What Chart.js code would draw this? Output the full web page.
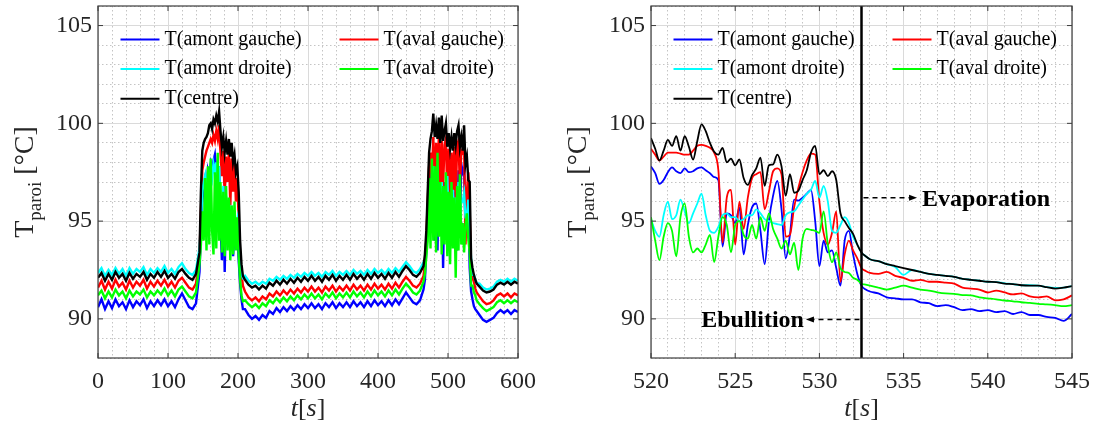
<!DOCTYPE html>
<html>
<head>
<meta charset="utf-8">
<script src="https://cdn.jsdelivr.net/npm/chart.js@4.4.1/dist/chart.umd.min.js"></script>
<style>
  html, body { margin: 0; padding: 0; background: #fff; }
  .panel { position: absolute; top: 0; height: 427px; }
  #left { left: 0; width: 548px; }
  #right { left: 548px; width: 547px; }
</style>
</head>
<body>
<div class="panel" id="left"><canvas id="chartLeft"></canvas></div>
<div class="panel" id="right"><canvas id="chartRight"></canvas></div>
<script>
// sampling grid helper (time stamps only)
function range(a, b, step) {
  const out = [];
  for (let i = 0; a + i * step <= b + 1e-9; i++) out.push(+(a + i * step).toFixed(2));
  return out;
}

const seriesNames = ["T(amont gauche)", "T(aval gauche)", "T(amont droite)", "T(aval droite)", "T(centre)"];
const seriesColors = ["#0000ff", "#ff0000", "#00ffff", "#00ff00", "#000000"];

const yTicks = [90, 95, 100, 105];
const leftXTicks = [0, 100, 200, 300, 400, 500, 600];
const rightXTicks = [520, 525, 530, 535, 540, 545];
const splitTime = 532.5;

// ---- left panel: whole run, 0-600 s ----
const leftTime = [
  ...range(0, 145, 5), ...range(147, 207, 2), ...range(210, 465, 5), ...range(467, 541, 2), ...range(545, 600, 5)
];

const leftBlue = [
  90.6, 91.0, 90.5, 90.9, 90.55, 91.0, 90.65, 90.85, 90.5, 90.95, 90.6, 90.9, 90.7, 91.0, 90.55,
  90.9, 90.65, 90.95, 90.7, 91.0, 90.65, 90.9, 90.6, 91.0, 91.3, 90.95, 90.6, 90.5, 90.8, 92.4,
  94.5, 96.0, 96.8, 97.2, 96.5, 97.6, 97.3, 97.9, 97.5, 98.1, 98.4, 97.6, 96.2, 97.8, 95.0, 93.0,
  96.5, 92.4, 96.0, 94.0, 95.8, 93.5, 95.5, 93.2, 94.6, 93.8, 94.5, 93.0, 91.8, 91.0, 90.5,
  90.5, 90.2, 90.0, 90.15, 89.95, 90.2, 90.05, 90.4, 90.25, 90.55, 90.35, 90.6, 90.4, 90.65, 90.45,
  90.7, 90.5, 90.75, 90.55, 90.8, 90.55, 90.75, 90.5, 90.8, 90.6, 90.85, 90.55, 90.8, 90.6, 90.85,
  90.6, 90.9, 90.65, 90.85, 90.6, 90.9, 90.65, 90.95, 90.7, 90.9, 90.65, 90.95, 90.7, 91.0, 90.75,
  91.05, 91.35, 91.1, 90.85, 90.75, 90.95, 91.5,
  92.0, 93.5, 95.5, 97.0, 97.6, 95.2, 98.0, 94.0, 97.8, 93.5, 98.2, 94.5, 97.5, 92.6, 97.0, 94.8,
  96.5, 93.8, 96.8, 94.2, 97.2, 94.0, 96.5, 93.5, 97.6, 95.0, 97.9, 97.5, 97.7, 94.9, 95.0, 96.2,
  92.6, 91.4, 91.0, 90.65, 90.5, 90.4,
  90.2, 89.95, 89.85, 89.95, 90.05, 90.3, 90.45, 90.3, 90.45, 90.25, 90.45, 90.35
];
const leftRed = [
  91.6, 91.95, 91.5, 91.9, 91.55, 92.0, 91.65, 91.85, 91.5, 91.95, 91.6, 91.9, 91.7, 92.0, 91.55,
  91.9, 91.65, 91.95, 91.7, 92.0, 91.65, 91.9, 91.6, 91.95, 92.1, 91.85, 91.6, 91.5, 91.8, 93.2,
  95.5, 97.6, 98.0, 98.3, 98.6, 98.8, 99.0, 99.2, 99.0, 99.4, 99.1, 99.6, 99.2, 99.9, 98.5, 97.3,
  98.6, 96.2, 98.3, 97.0, 98.5, 95.8, 98.2, 96.5, 97.9, 96.0, 97.2, 95.0, 93.3, 92.3, 91.7,
  91.4, 91.1, 90.95, 91.1, 90.9, 91.15, 91.0, 91.3, 91.15, 91.4, 91.2, 91.45, 91.25, 91.5, 91.3,
  91.55, 91.35, 91.6, 91.4, 91.65, 91.4, 91.6, 91.35, 91.65, 91.45, 91.7, 91.4, 91.65, 91.45, 91.7,
  91.45, 91.75, 91.5, 91.7, 91.45, 91.75, 91.5, 91.8, 91.55, 91.75, 91.5, 91.8, 91.55, 91.85, 91.6,
  91.9, 92.15, 91.95, 91.7, 91.6, 91.8, 92.2,
  92.8, 94.0, 96.0, 97.8, 98.5, 97.0, 99.3, 96.5, 99.0, 97.2, 99.4, 96.0, 99.1, 96.8, 98.9, 99.2,
  96.3, 98.7, 95.8, 98.5, 96.5, 98.8, 96.0, 98.9, 99.1, 96.8, 98.6, 98.5, 98.9, 93.8, 96.5, 97.5,
  95.5, 92.35, 92.1, 91.9, 91.55, 91.35,
  91.15, 90.9, 90.75, 90.8, 90.95, 91.2, 91.3, 91.15, 91.3, 91.1, 91.3, 91.2
];
const leftCyan = [
  92.35, 92.6, 92.2, 92.5, 92.25, 92.6, 92.3, 92.55, 92.2, 92.6, 92.3, 92.55, 92.4, 92.65, 92.25,
  92.55, 92.35, 92.6, 92.4, 92.7, 92.35, 92.55, 92.3, 92.65, 92.85, 92.55, 92.35, 92.25, 92.5, 93.6,
  94.8, 96.5, 97.0, 97.3, 96.0, 97.5, 96.8, 97.6, 97.2, 97.9, 97.5, 98.0, 96.5, 97.8, 95.5, 94.5,
  96.8, 94.0, 96.3, 94.8, 96.0, 94.2, 95.8, 94.0, 95.2, 94.5, 95.0, 94.0, 92.8, 92.3, 92.1,
  92.2, 91.95, 91.8, 91.9, 91.75, 91.9, 91.8, 92.05, 91.95, 92.15, 92.0, 92.2, 92.05, 92.25, 92.1,
  92.3, 92.15, 92.35, 92.2, 92.4, 92.2, 92.35, 92.15, 92.4, 92.25, 92.45, 92.2, 92.4, 92.25, 92.45,
  92.25, 92.5, 92.3, 92.45, 92.25, 92.5, 92.3, 92.55, 92.35, 92.5, 92.3, 92.55, 92.35, 92.6, 92.4,
  92.65, 92.9, 92.7, 92.45, 92.35, 92.55, 92.9,
  92.8, 94.0, 95.0, 96.2, 97.0, 95.5, 97.8, 95.0, 97.2, 94.8, 96.8, 95.2, 97.0, 94.5, 96.5, 95.5,
  97.3, 94.8, 96.0, 95.3, 96.6, 94.9, 96.2, 95.0, 97.0, 95.4, 96.0, 96.0, 96.4, 95.2, 95.0, 96.1,
  94.4, 93.05, 92.25, 92.25, 92.0, 91.82,
  91.8, 91.6, 91.5, 91.55, 91.65, 91.9, 92.0, 91.9, 92.05, 91.9, 92.05, 91.95
];
const leftGreen = [
  91.2, 91.45, 91.05, 91.4, 91.1, 91.5, 91.2, 91.4, 91.05, 91.45, 91.15, 91.4, 91.25, 91.5, 91.1,
  91.4, 91.2, 91.45, 91.25, 91.55, 91.2, 91.45, 91.15, 91.5, 91.65, 91.4, 91.15, 91.05, 91.35, 92.8,
  93.8, 95.5, 94.0, 97.2, 93.5, 97.8, 93.8, 98.2, 94.5, 93.3, 97.5, 93.6, 98.5, 94.0, 97.0, 93.4,
  96.5, 93.2, 96.8, 93.5, 96.2, 93.0, 95.8, 93.3, 96.0, 93.5, 95.2, 93.2, 92.0, 91.2, 90.9,
  90.95, 90.75, 90.6, 90.75, 90.55, 90.8, 90.65, 90.95, 90.8, 91.05, 90.85, 91.1, 90.9, 91.15, 90.95,
  91.2, 91.0, 91.25, 91.05, 91.3, 91.05, 91.25, 91.0, 91.3, 91.1, 91.35, 91.05, 91.3, 91.1, 91.35,
  91.1, 91.4, 91.15, 91.35, 91.1, 91.4, 91.15, 91.45, 91.2, 91.4, 91.15, 91.45, 91.2, 91.5, 91.25,
  91.55, 91.8, 91.6, 91.35, 91.25, 91.45, 91.9,
  92.3, 93.2, 94.0, 97.2, 93.6, 98.2, 94.0, 97.8, 93.4, 98.5, 94.2, 97.0, 93.3, 96.8, 93.8, 97.5,
  93.2, 96.5, 92.8, 97.0, 93.6, 96.2, 92.1, 96.8, 93.5, 97.4, 93.8, 94.9, 93.4, 94.8, 95.4, 94.1,
  93.4, 91.7, 91.7, 91.36, 91.2, 90.94,
  90.75, 90.55, 90.4, 90.5, 90.6, 90.85, 90.95, 90.8, 90.95, 90.8, 90.95, 90.85
];
const leftBlack = [
  92.1, 92.35, 91.95, 92.3, 92.0, 92.4, 92.1, 92.3, 91.95, 92.35, 92.05, 92.3, 92.15, 92.4, 92.0,
  92.3, 92.1, 92.4, 92.15, 92.45, 92.1, 92.3, 92.05, 92.4, 92.55, 92.3, 92.1, 92.0, 92.3, 93.4,
  96.5, 98.6, 99.0, 99.2, 99.3, 99.5, 99.9, 100.0, 99.7, 100.2, 100.0, 100.4, 100.1, 100.6, 99.6, 98.8,
  99.3, 98.5, 99.1, 98.4, 99.2, 98.3, 99.0, 98.0, 98.4, 97.5, 97.8, 96.5, 94.0, 92.8, 92.2,
  92.0, 91.75, 91.6, 91.7, 91.5, 91.7, 91.55, 91.85, 91.7, 91.95, 91.75, 92.0, 91.8, 92.05, 91.85,
  92.1, 91.9, 92.15, 91.95, 92.2, 91.95, 92.15, 91.9, 92.2, 92.0, 92.25, 91.95, 92.2, 92.0, 92.25,
  92.0, 92.3, 92.05, 92.25, 92.0, 92.3, 92.05, 92.35, 92.1, 92.3, 92.05, 92.35, 92.1, 92.4, 92.15,
  92.45, 92.7, 92.5, 92.25, 92.15, 92.35, 92.7,
  93.3, 94.5, 96.5, 98.5, 99.2, 99.6, 100.5, 99.3, 99.9, 99.2, 100.3, 99.0, 100.4, 99.1, 99.6, 100.0,
  98.8, 99.5, 98.7, 99.3, 98.6, 99.5, 98.9, 99.6, 99.9, 98.8, 99.3, 98.6, 99.9, 97.9, 98.3, 97.1,
  97.0, 93.1, 92.6, 92.25, 92.0, 91.8,
  91.65, 91.45, 91.35, 91.4, 91.5, 91.75, 91.85, 91.75, 91.9, 91.75, 91.9, 91.8
];

// ---- right panel: zoom on 520-545 s ----
const rightTime = [...range(520, 533, 0.25), ...range(533.5, 545, 0.5)];

const rightBlue = [
  97.8, 97.45, 96.9, 97.1, 97.5, 97.75, 97.55, 97.45, 97.7, 97.5, 97.55, 97.7,
  97.75, 97.6, 97.45, 97.25, 97.1, 93.7, 95.4, 95.3, 94.9, 95.7, 93.3, 94.8,
  95.7, 95.9, 94.5, 92.8, 95.0, 96.3, 97.05, 95.6, 93.1, 94.3, 96.1, 96.05,
  96.2, 96.4, 96.6, 95.0, 92.7, 94.0, 93.4, 93.5, 92.6, 91.7, 94.0, 94.5,
  93.3, 92.3, 91.7, 91.5, 91.4,
  91.3, 91.1, 91.05, 91.0, 91.0, 90.85, 90.8, 90.65, 90.7, 90.6, 90.45, 90.5,
  90.4, 90.45, 90.35, 90.4, 90.25, 90.35, 90.2, 90.2, 90.1, 90.05, 89.9, 90.25
];
const rightRed = [
  98.7, 98.4, 98.1, 98.3, 98.5, 98.5, 98.5, 98.45, 98.4, 98.4, 98.6, 98.85,
  98.9, 98.85, 98.75, 98.5, 97.6, 93.9, 96.2, 96.6, 93.8, 96.0, 94.6, 96.2,
  97.2, 97.4, 97.5, 95.6, 96.5, 97.55, 97.7, 97.4, 94.2, 94.3, 95.7, 96.7,
  97.5, 98.1, 98.45, 98.4, 96.0, 94.4, 93.8, 94.4, 95.5, 91.9, 93.3, 94.0,
  93.5, 93.1, 92.6, 92.45, 92.35,
  92.3, 92.4, 92.2, 92.1, 91.95, 92.0, 91.9, 91.9, 91.85, 91.8, 91.6, 91.55,
  91.5, 91.35, 91.45, 91.35, 91.25, 91.3, 91.15, 91.1, 91.15, 90.95, 91.0, 91.2
];
const rightCyan = [
  95.1, 94.5, 94.2, 95.3, 96.0, 95.1, 95.3, 96.1, 95.5, 94.9, 95.4, 95.9,
  96.4, 95.3, 94.5, 94.4, 94.7, 95.3, 95.4, 95.2, 95.2, 95.0, 95.1, 95.3,
  95.3, 95.6, 95.4, 95.1, 95.0, 94.9, 94.85, 94.8, 95.3, 95.45, 95.5, 95.8,
  96.1, 96.4, 96.6, 97.05, 96.2, 96.8, 96.0, 94.5, 94.4, 94.8, 95.2, 94.9,
  94.2, 93.8, 93.4, 93.2, 93.05,
  92.95, 92.8, 92.65, 92.25, 92.5, 92.4, 92.3, 92.25, 92.2, 92.15, 92.05, 92.0,
  91.95, 91.9, 91.88, 91.82, 91.78, 91.72, 91.72, 91.7, 91.62, 91.58, 91.6, 91.68
];
const rightGreen = [
  95.2, 94.0, 93.0, 94.2, 94.9, 94.5, 93.2, 95.2, 95.9, 94.2, 93.4, 93.6,
  93.4, 93.8, 94.3, 92.9, 94.2, 95.2, 94.8, 93.4, 94.8, 95.0, 94.3, 94.1,
  94.8, 94.1, 95.2, 94.5, 95.4, 94.6, 94.1, 93.6, 94.0, 93.3, 93.9, 92.5,
  94.1, 94.6, 94.55, 94.5, 94.4, 95.5, 93.8, 92.9, 93.4, 92.6, 92.4, 92.35,
  92.1, 92.0, 91.8, 91.75, 91.7,
  91.6, 91.5, 91.6, 91.7, 91.6, 91.5, 91.45, 91.36, 91.3, 91.28, 91.22, 91.2,
  91.1, 91.05, 91.0, 90.94, 90.9, 90.85, 90.82, 90.77, 90.74, 90.7, 90.65, 90.7
];
const rightBlack = [
  99.25, 98.7, 98.1, 98.6, 99.15, 98.85, 99.35, 98.6, 99.35, 98.8, 98.15, 99.1,
  99.95, 99.6, 99.0, 98.55, 98.4, 98.75, 98.0, 98.2, 97.85, 98.15, 97.2, 96.85,
  97.35, 97.7, 98.25, 96.8, 97.85, 97.9, 98.4, 97.8, 96.3, 97.4, 96.45, 96.55,
  97.1, 97.6, 98.5, 98.85, 97.4, 97.6, 97.3, 97.55, 97.1, 95.4, 95.0, 94.65,
  94.35, 93.8, 93.4, 93.2, 93.05,
  92.95, 92.8, 92.7, 92.6, 92.5, 92.4, 92.3, 92.25, 92.2, 92.15, 92.05, 92.0,
  91.95, 91.9, 91.88, 91.8, 91.78, 91.72, 91.7, 91.7, 91.62, 91.55, 91.6, 91.68
];

const serif = '"Liberation Serif", "Times New Roman", serif';
const ink = '#262626';

// legend, frame, inner ticks, split line, axis titles
const decorPlugin = {
  id: 'decor',
  afterDatasetsDraw(chart, args, opts) {
    const { ctx, chartArea: area } = chart;
    const xs = chart.scales.x;
    const ys = chart.scales.y;
    ctx.save();

    if (opts.split !== undefined) {
      const sx = xs.getPixelForValue(opts.split);
      ctx.strokeStyle = '#000';
      ctx.fillStyle = '#000';
      ctx.lineWidth = 2.5;
      ctx.beginPath();
      ctx.moveTo(sx, area.top);
      ctx.lineTo(sx, area.bottom);
      ctx.stroke();

      opts.notes.forEach(n => {
        const y = ys.getPixelForValue(n.y);
        const tip = xs.getPixelForValue(n.tip);
        const dir = Math.sign(tip - sx);
        ctx.lineWidth = 1.5;
        ctx.setLineDash([5, 4]);
        ctx.beginPath();
        ctx.moveTo(sx + dir * 2, y);
        ctx.lineTo(tip - dir * 6, y);
        ctx.stroke();
        ctx.setLineDash([]);
        ctx.beginPath();
        ctx.moveTo(tip, y);
        ctx.lineTo(tip - dir * 8, y - 3);
        ctx.lineTo(tip - dir * 8, y + 3);
        ctx.closePath();
        ctx.fill();
        ctx.font = `bold 24px ${serif}`;
        ctx.textBaseline = 'alphabetic';
        ctx.textAlign = dir > 0 ? 'left' : 'right';
        ctx.fillText(n.text, tip + dir * n.gap, y + 8);
      });
    }

    // box
    ctx.strokeStyle = '#3c3c3c';
    ctx.lineWidth = 1.2;
    ctx.strokeRect(area.left, area.top, area.right - area.left, area.bottom - area.top);

    // ticks pointing inward
    ctx.lineWidth = 1;
    ctx.beginPath();
    xs.ticks.forEach(t => {
      const px = xs.getPixelForValue(t.value);
      ctx.moveTo(px, area.bottom); ctx.lineTo(px, area.bottom - 5);
      ctx.moveTo(px, area.top); ctx.lineTo(px, area.top + 5);
    });
    ys.ticks.forEach(t => {
      const py = ys.getPixelForValue(t.value);
      ctx.moveTo(area.left, py); ctx.lineTo(area.left + 5, py);
      ctx.moveTo(area.right, py); ctx.lineTo(area.right - 5, py);
    });
    ctx.stroke();

    // legend
    ctx.font = `20px ${serif}`;
    ctx.textBaseline = 'middle';
    ctx.textAlign = 'left';
    seriesNames.forEach((name, i) => {
      const lx = area.left + 22.5 + (i % 2) * 219;
      const ly = area.top + 33.5 + Math.floor(i / 2) * 29.6;
      ctx.strokeStyle = seriesColors[i];
      ctx.lineWidth = 2;
      ctx.beginPath();
      ctx.moveTo(lx, ly);
      ctx.lineTo(lx + 39, ly);
      ctx.stroke();
      ctx.fillStyle = '#000';
      ctx.fillText(name, lx + 44, ly);
    });
    ctx.restore();
  },

  afterDraw(chart) {
    const { ctx, chartArea: area } = chart;
    ctx.save();
    ctx.fillStyle = ink;
    ctx.textBaseline = 'alphabetic';
    ctx.textAlign = 'left';

    // y title: T_paroi [°C]
    const big = `28px ${serif}`, small = `19px ${serif}`;
    ctx.font = big;
    const wT = ctx.measureText('T').width;
    const wRest = ctx.measureText(' [°C]').width;
    ctx.font = small;
    const wSub = ctx.measureText('paroi').width;
    ctx.translate(area.left - 65, (area.top + area.bottom) / 2);
    ctx.rotate(-Math.PI / 2);
    let x0 = -(wT + wSub + wRest) / 2;
    ctx.font = big;
    ctx.fillText('T', x0, 0);
    ctx.font = small;
    ctx.fillText('paroi', x0 + wT, 8);
    ctx.font = big;
    ctx.fillText(' [°C]', x0 + wT + wSub, 0);
    ctx.setTransform(1, 0, 0, 1, 0, 0);
    ctx.restore();

    // x title: t[s]
    ctx.save();
    ctx.fillStyle = ink;
    ctx.textBaseline = 'alphabetic';
    ctx.textAlign = 'left';
    const parts = [['t', true], ['[', false], ['s', true], [']', false]];
    const fontOf = it => `${it ? 'italic ' : ''}26px ${serif}`;
    let total = 0;
    parts.forEach(p => { ctx.font = fontOf(p[1]); total += ctx.measureText(p[0]).width; });
    let x = (area.left + area.right) / 2 - total / 2;
    parts.forEach(p => {
      ctx.font = fontOf(p[1]);
      ctx.fillText(p[0], x, 415.5);
      x += ctx.measureText(p[0]).width;
    });
    ctx.restore();
  }
};

function noPad(s) { s.paddingTop = 0; s.paddingBottom = 0; s.paddingLeft = 0; s.paddingRight = 0; }

function stepTicks(min, max, step) {
  const out = [];
  for (let i = 0; min + i * step <= max + 1e-9; i++) out.push({ value: min + i * step });
  return out;
}

function makeChart(canvasId, time, series, cfg) {
  const datasets = series.map((vals, i) => ({
    label: seriesNames[i],
    data: time.map((t, j) => ({ x: t, y: vals[j] })),
    borderColor: seriesColors[i],
    borderWidth: cfg.lineWidth,
    pointRadius: 0,
    fill: false,
    cubicInterpolationMode: cfg.smooth ? 'monotone' : 'default',
    tension: 0,
    order: 5 - i
  }));

  const tickFont = { family: serif, size: 24 };

  return new Chart(document.getElementById(canvasId), {
    type: 'line',
    data: { datasets },
    options: {
      responsive: true,
      maintainAspectRatio: false,
      animation: false,
      events: [],
      layout: { padding: { top: 6, right: cfg.padRight, left: 0, bottom: 0 } },
      plugins: {
        legend: { display: false },
        tooltip: { enabled: false },
        decor: cfg.decor
      },
      scales: {
        xm: {
          type: 'linear', position: 'bottom', min: cfg.xMin, max: cfg.xMax,
          afterBuildTicks: s => { s.ticks = stepTicks(cfg.xMin, cfg.xMax, cfg.xMinor); },
          afterFit: s => { s.height = 0; noPad(s); },
          ticks: { display: false },
          grid: { color: '#c4c4c4', lineWidth: 1, drawTicks: false },
          border: { display: false, dash: [1.5, 2.5] }
        },
        ym: {
          type: 'linear', position: 'left', min: 88, max: 106,
          afterBuildTicks: s => { s.ticks = stepTicks(88, 106, 1); },
          afterFit: s => { s.width = 0; noPad(s); },
          ticks: { display: false },
          grid: { color: '#c4c4c4', lineWidth: 1, drawTicks: false },
          border: { display: false, dash: [1.5, 2.5] }
        },
        x: {
          type: 'linear', position: 'bottom', min: cfg.xMin, max: cfg.xMax,
          afterBuildTicks: s => { s.ticks = cfg.xTicks.map(v => ({ value: v })); },
          afterFit: s => { s.height = 69; noPad(s); },
          ticks: { font: tickFont, color: ink, padding: 9, autoSkip: false, maxRotation: 0 },
          grid: { color: '#dadada', lineWidth: 1, drawTicks: false },
          border: { display: false }
        },
        y: {
          type: 'linear', position: 'left', min: 88, max: 106,
          afterBuildTicks: s => { s.ticks = yTicks.map(v => ({ value: v })); },
          afterFit: s => { s.width = cfg.yWidth; noPad(s); },
          ticks: { font: tickFont, color: ink, padding: 6, autoSkip: false },
          grid: { color: '#dadada', lineWidth: 1, drawTicks: false },
          border: { display: false }
        }
      }
    },
    plugins: [decorPlugin]
  });
}

makeChart('chartLeft', leftTime, [leftBlue, leftRed, leftCyan, leftGreen, leftBlack], {
  xMin: 0, xMax: 600, xTicks: leftXTicks, xMinor: 20,
  yWidth: 98, padRight: 30, lineWidth: 2.4, smooth: false,
  decor: {}
});

makeChart('chartRight', rightTime, [rightBlue, rightRed, rightCyan, rightGreen, rightBlack], {
  xMin: 520, xMax: 545, xTicks: rightXTicks, xMinor: 1,
  yWidth: 103, padRight: 23, lineWidth: 1.8, smooth: true,
  decor: {
    split: splitTime,
    notes: [
      { text: 'Evaporation', y: 96.2, tip: 535.8, gap: 5 },
      { text: 'Ebullition', y: 89.97, tip: 529.2, gap: 2 }
    ]
  }
});
</script>
</body>
</html>
